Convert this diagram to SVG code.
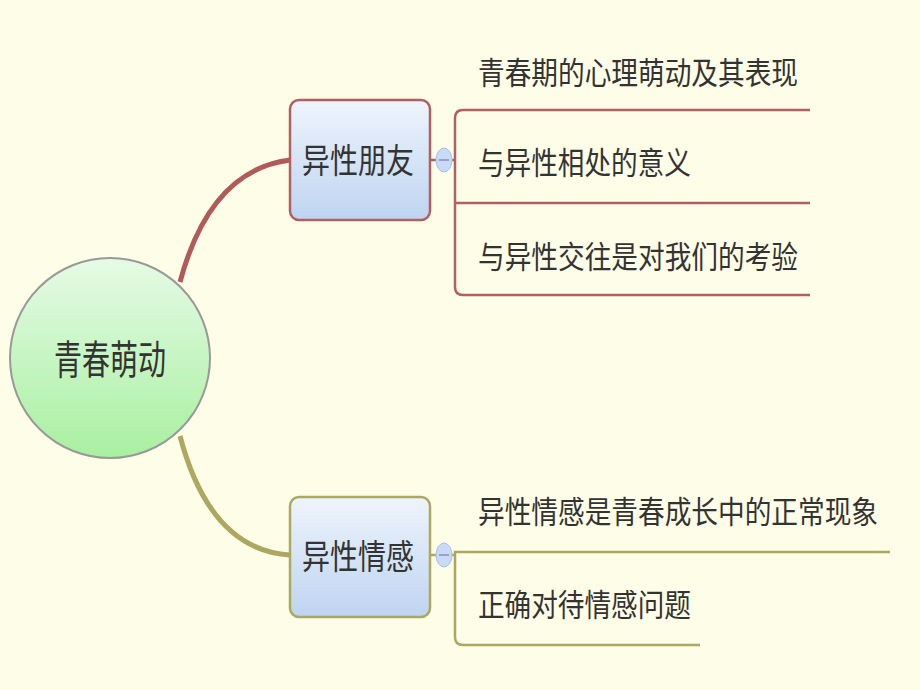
<svg xmlns="http://www.w3.org/2000/svg" width="920" height="690" viewBox="0 0 920 690">
<defs>
<linearGradient id="cg" x1="0" y1="0" x2="0" y2="1"><stop offset="0" stop-color="#E6FAE6"/><stop offset="1" stop-color="#A8F0A0"/></linearGradient>
<linearGradient id="bg" x1="0" y1="0" x2="0" y2="1"><stop offset="0" stop-color="#EEF4FC"/><stop offset="1" stop-color="#BED4F0"/></linearGradient>
<style>
text{font-family:"Noto Sans CJK SC","Liberation Sans",sans-serif;fill:#333}
.leaf{font-size:31px}
.node{font-size:34px;text-anchor:middle}
.r{stroke:#B06060;fill:none;stroke-width:2.5}
.o{stroke:#ACA860;fill:none;stroke-width:2.5}
.tog{fill:#C8DAF6;stroke:#A8C0E8;stroke-width:1}
</style>
</defs>
<rect width="920" height="690" fill="#FEFDE8"/>
<g id="connectors">
<path d="M180 282 Q210 170 290 160" fill="none" stroke="#B05A5A" stroke-width="5"/>
<path d="M180 436 Q210 550 290 555" fill="none" stroke="#ACA860" stroke-width="5"/>
<line x1="430" y1="160" x2="455" y2="160" class="r"/>
<path d="M810 110 H463 Q455 110 455 118 V287 Q455 295 463 295 H810 M455 203 H810" class="r"/>
<line x1="430" y1="555" x2="455" y2="555" class="o"/>
<path d="M890 552 H455 V637 Q455 645 463 645 H700" class="o"/>
</g>
<g id="center">
<circle cx="110" cy="358" r="100" fill="url(#cg)" stroke="#999" stroke-width="2"/>
<text x="110" y="374" class="node" style="font-size:40px" textLength="112" lengthAdjust="spacingAndGlyphs">青春萌动</text>
</g>
<g id="n1">
<rect x="290" y="100" width="140" height="120" rx="9" fill="url(#bg)" stroke="#B06060" stroke-width="2.5"/>
<text x="358" y="173" class="node" textLength="112" lengthAdjust="spacingAndGlyphs">异性朋友</text>
<ellipse cx="444" cy="160" rx="8" ry="12" class="tog"/>
<line x1="439" y1="160" x2="449" y2="160" stroke="#8890B0" stroke-width="1.5"/>
</g>
<g id="n2">
<rect x="290" y="497" width="140" height="120" rx="9" fill="url(#bg)" stroke="#ACA860" stroke-width="2.5"/>
<text x="358" y="569" class="node" textLength="112" lengthAdjust="spacingAndGlyphs">异性情感</text>
<ellipse cx="444" cy="555" rx="8" ry="12" class="tog"/>
<line x1="439" y1="555" x2="449" y2="555" stroke="#8890B0" stroke-width="1.5"/>
</g>
<g id="leaves">
<text x="478" y="84" class="leaf" textLength="320" lengthAdjust="spacingAndGlyphs">青春期的心理萌动及其表现</text>
<text x="478" y="174" class="leaf" textLength="213" lengthAdjust="spacingAndGlyphs">与异性相处的意义</text>
<text x="478" y="268" class="leaf" textLength="320" lengthAdjust="spacingAndGlyphs">与异性交往是对我们的考验</text>
<text x="478" y="523" class="leaf" textLength="400" lengthAdjust="spacingAndGlyphs">异性情感是青春成长中的正常现象</text>
<text x="478" y="616" class="leaf" textLength="213" lengthAdjust="spacingAndGlyphs">正确对待情感问题</text>
</g>
</svg>
